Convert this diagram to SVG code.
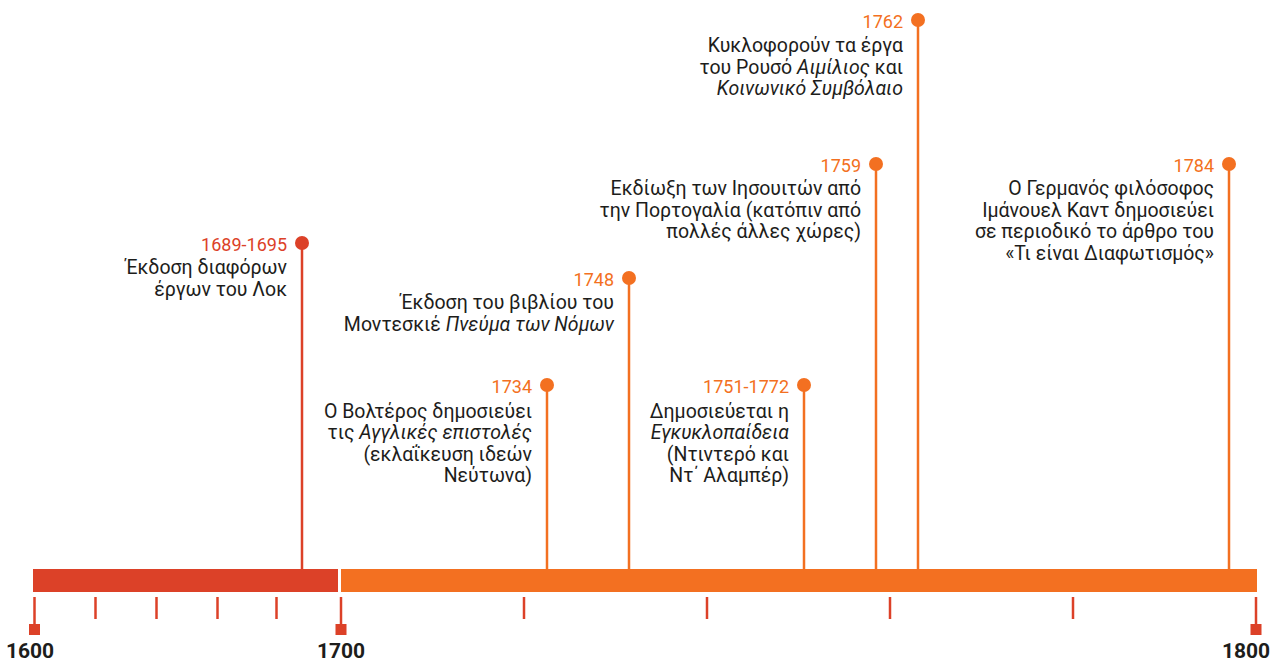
<svg xmlns="http://www.w3.org/2000/svg" width="1273" height="662" viewBox="0 0 1273 662">
<style>
.t{font-family:Roboto,"Noto Sans","DejaVu Sans",sans-serif;font-size:19.5px;fill:#1d1d1b;text-anchor:end}
.y{font-family:Roboto,"Noto Sans","DejaVu Sans",sans-serif;font-size:18px;text-anchor:end}
.yr{fill:#dc4128}.yo{fill:#f37021}
.ax{font-family:Roboto,"Noto Sans","DejaVu Sans",sans-serif;font-size:21px;font-weight:bold;fill:#1d1d1b;text-anchor:middle}
.it{font-style:italic}
.lr{stroke:#dc4128;stroke-width:2.5}
.lo{stroke:#f37021;stroke-width:2.5}
.tk{stroke:#dc4128;stroke-width:2.5}
</style>
<rect width="1273" height="662" fill="#fff"/>
<g id="axis">
<rect x="33" y="569" width="305" height="23" fill="#dc4128"/>
<rect x="341" y="569" width="916" height="23" fill="#f37021"/>
<g class="tk">
<line x1="34.5" y1="597" x2="34.5" y2="626"/>
<line x1="95.5" y1="597" x2="95.5" y2="619"/>
<line x1="156.5" y1="597" x2="156.5" y2="619"/>
<line x1="217.5" y1="597" x2="217.5" y2="619"/>
<line x1="276.5" y1="597" x2="276.5" y2="619"/>
<line x1="341" y1="597" x2="341" y2="626"/>
<line x1="524" y1="597" x2="524" y2="619"/>
<line x1="707" y1="597" x2="707" y2="619"/>
<line x1="890" y1="597" x2="890" y2="619"/>
<line x1="1073" y1="597" x2="1073" y2="619"/>
<line x1="1256" y1="597" x2="1256" y2="626"/>
</g>
<rect x="29" y="624" width="11" height="11" fill="#dc4128"/>
<rect x="335.5" y="624" width="11" height="11" fill="#dc4128"/>
<rect x="1250.5" y="624" width="11" height="11" fill="#dc4128"/>
<text class="ax" x="30" y="658">1600</text>
<text class="ax" x="341" y="658">1700</text>
<text class="ax" x="1246" y="658">1800</text>
</g>
<g id="connectors">
<line class="lr" x1="302" y1="243" x2="302" y2="569"/>
<line class="lo" x1="629" y1="278" x2="629" y2="569"/>
<line class="lo" x1="547" y1="385" x2="547" y2="569"/>
<line class="lo" x1="804" y1="385" x2="804" y2="569"/>
<line class="lo" x1="876" y1="164" x2="876" y2="569"/>
<line class="lo" x1="918" y1="20" x2="918" y2="569"/>
<line class="lo" x1="1229" y1="164" x2="1229" y2="569"/>
</g>
<g id="e1689">
<circle cx="302" cy="243" r="7" fill="#dc4128"/>
<text class="y yr" x="287" y="251">1689-1695</text>
<text class="t" x="287" y="274">Έκδοση διαφόρων</text>
<text class="t" x="287" y="296">έργων του Λοκ</text>
</g>
<g id="e1748">
<circle cx="629" cy="278" r="7" fill="#f37021"/>
<text class="y yo" x="614" y="286">1748</text>
<text class="t" x="614" y="309">Έκδοση του βιβλίου του</text>
<text class="t" x="614" y="331">Μοντεσκιέ <tspan class="it">Πνεύμα των Νόμων</tspan></text>
</g>
<g id="e1734">
<circle cx="547" cy="385" r="7" fill="#f37021"/>
<text class="y yo" x="532" y="393">1734</text>
<text class="t" x="532" y="418">Ο Βολτέρος δημοσιεύει</text>
<text class="t" x="532" y="439">τις <tspan class="it">Αγγλικές επιστολές</tspan></text>
<text class="t" x="532" y="461">(εκλαΐκευση ιδεών</text>
<text class="t" x="532" y="482">Νεύτωνα)</text>
</g>
<g id="e1751">
<circle cx="804" cy="385" r="7" fill="#f37021"/>
<text class="y yo" x="789" y="393">1751-1772</text>
<text class="t" x="789" y="418">Δημοσιεύεται η</text>
<text class="t it" x="789" y="439">Εγκυκλοπαίδεια</text>
<text class="t" x="789" y="461">(Ντιντερό και</text>
<text class="t" x="789" y="482">Ντ΄ Αλαμπέρ)</text>
</g>
<g id="e1759">
<circle cx="876" cy="164" r="7" fill="#f37021"/>
<text class="y yo" x="861" y="172">1759</text>
<text class="t" x="861" y="195">Εκδίωξη των Ιησουιτών από</text>
<text class="t" x="861" y="217">την Πορτογαλία (κατόπιν από</text>
<text class="t" x="861" y="238">πολλές άλλες χώρες)</text>
</g>
<g id="e1762">
<circle cx="918" cy="20" r="7" fill="#f37021"/>
<text class="y yo" x="903" y="28">1762</text>
<text class="t" x="903" y="52">Κυκλοφορούν τα έργα</text>
<text class="t" x="903" y="74">του Ρουσό <tspan class="it">Αιμίλιος</tspan> και</text>
<text class="t it" x="903" y="95">Κοινωνικό Συμβόλαιο</text>
</g>
<g id="e1784">
<circle cx="1229" cy="164" r="7" fill="#f37021"/>
<text class="y yo" x="1214" y="172">1784</text>
<text class="t" x="1214" y="195">Ο Γερμανός φιλόσοφος</text>
<text class="t" x="1214" y="217">Ιμάνουελ Καντ δημοσιεύει</text>
<text class="t" x="1214" y="238">σε περιοδικό το άρθρο του</text>
<text class="t" x="1214" y="260">«Τι είναι Διαφωτισμός»</text>
</g>
</svg>
